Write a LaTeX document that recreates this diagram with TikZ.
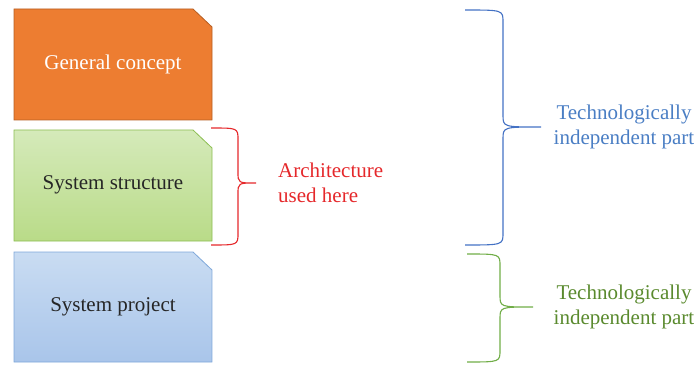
\documentclass[tikz,border=0pt]{standalone}
\usepackage{fontspec}
\setmainfont{Liberation Serif}
\begin{document}
\begin{tikzpicture}[x=1pt,y=-1pt,
  lbl/.style={font=\fontsize{21}{25.5}\selectfont, align=center, inner sep=0pt},
  brc/.style={line width=1.1pt}]
\definecolor{orfill}{HTML}{ED7D31}
\definecolor{ordraw}{HTML}{B65E22}
\definecolor{grtop}{HTML}{D5EABA}
\definecolor{grbot}{HTML}{B9DB88}
\definecolor{grdraw}{HTML}{8CBE52}
\definecolor{bltop}{HTML}{C9DCF2}
\definecolor{blbot}{HTML}{A9C5EA}
\definecolor{bldraw}{HTML}{7FA8DA}
\definecolor{redc}{HTML}{E5282B}
\definecolor{bluec}{HTML}{4472C4}
\definecolor{bluetxt}{HTML}{4A7EC4}
\definecolor{greenc}{HTML}{70AD47}
\definecolor{greentxt}{HTML}{5A8A2E}
\useasboundingbox (0,0) rectangle (698,366);
% boxes
\draw[ordraw, line width=0.8pt, fill=orfill] (14,9) -- (193,9) -- (212,27) -- (212,120) -- (14,120) -- cycle;
\draw[grdraw, line width=0.8pt, top color=grtop, bottom color=grbot] (14,130) -- (193,130) -- (212,148) -- (212,241) -- (14,241) -- cycle;
\draw[bldraw, line width=0.8pt, top color=bltop, bottom color=blbot] (14,252) -- (193,252) -- (212,270) -- (212,362) -- (14,362) -- cycle;
\node[lbl, text=white] (gc) at (113,64) {General concept};
\node[lbl, text=black!85] (ss) at (113,185) {System structure};
\node[lbl, text=black!85] (sp) at (113,307) {System project};
% red brace
\draw[brc, redc] (211,128) .. controls (238,128) .. (238,140) -- (238,172)
  .. controls (238,183) .. (256,183) .. controls (238,183) .. (238,194)
  -- (238,233) .. controls (238,245) .. (211,245);
\node[lbl, text=redc, align=left, anchor=west] (arch) at (278,183) {Architecture\\used here};
% blue brace
\draw[brc, bluec] (465,10) .. controls (503,10) .. (503,22) -- (503,115)
  .. controls (503,127) .. (541,127) .. controls (503,127) .. (503,139)
  -- (503,233) .. controls (503,245) .. (465,245);
\node[lbl, text=bluetxt] (tip1) at (624,127) {Technologically\\independent part};
% green brace
\draw[brc, greenc] (467,254) .. controls (500,254) .. (500,266) -- (500,295)
  .. controls (500,307) .. (533,307) .. controls (500,307) .. (500,319)
  -- (500,350) .. controls (500,362) .. (467,362);
\node[lbl, text=greentxt] (tip2) at (624,307) {Technologically\\independent part};
\end{tikzpicture}
\end{document}
